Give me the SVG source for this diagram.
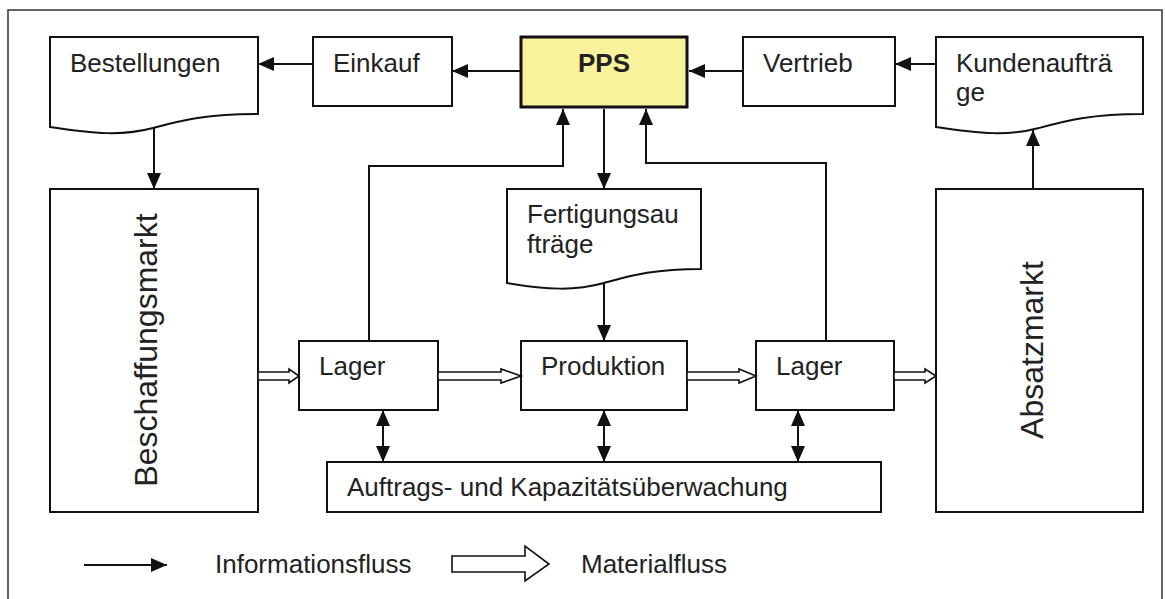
<svg xmlns="http://www.w3.org/2000/svg" width="1165" height="599" viewBox="0 0 1165 599">
<style>
.box{fill:#fff;stroke:#111;stroke-width:2}
.t{font-family:"Liberation Sans",Arial,sans-serif;font-size:26px;fill:#222}
.big{font-family:"Liberation Sans",Arial,sans-serif;font-size:32px;fill:#222}
.c{fill:none;stroke:#111;stroke-width:2}
.m{fill:#fff;stroke:#111;stroke-width:1.6;stroke-linejoin:miter}
</style>
<defs>
<marker id="ah" viewBox="0 0 16 14" markerWidth="16" markerHeight="14" refX="16" refY="7" markerUnits="userSpaceOnUse" orient="auto-start-reverse">
<path d="M0,0 L16,7 L0,14 Z" fill="#111"/>
</marker>
</defs>
<rect width="1165" height="599" fill="#fff"/>
<path d="M8,599 V10 H1162 V599" fill="none" stroke="#333" stroke-width="1.5"/>

<g id="bestellungen">
<path class="box" d="M50,37 H258 V114 C205,114 180,121 153,128 C123,136 95,134 50,127 Z"/>
<text class="t" x="70" y="72">Bestellungen</text>
</g>
<g id="einkauf">
<rect class="box" x="313" y="37" width="139" height="69"/>
<text class="t" x="333" y="72">Einkauf</text>
</g>
<g id="pps">
<rect x="521" y="37" width="166" height="70" fill="#f9f29d" stroke="#111" stroke-width="3"/>
<text class="t" x="604" y="72" text-anchor="middle" font-weight="bold">PPS</text>
</g>
<g id="vertrieb">
<rect class="box" x="743" y="37" width="152" height="69"/>
<text class="t" x="763" y="72">Vertrieb</text>
</g>
<g id="kundenauftraege">
<path class="box" d="M936,37 H1143 V114 C1090,114 1065,121 1039,128 C1009,136 981,134 936,127 Z"/>
<text class="t" x="956" y="72">Kundenaufträ</text>
<text class="t" x="956" y="101">ge</text>
</g>
<g id="beschaffungsmarkt">
<rect class="box" x="50" y="189" width="208" height="323"/>
<text class="big" transform="translate(157,350) rotate(-90)" text-anchor="middle">Beschaffungsmarkt</text>
</g>
<g id="absatzmarkt">
<rect class="box" x="936" y="189" width="207" height="323"/>
<text class="big" transform="translate(1043,350) rotate(-90)" text-anchor="middle">Absatzmarkt</text>
</g>
<g id="fertigungsauftraege">
<path class="box" d="M507,189 H701 V269 C652,269 630,276 604,283 C575,291 548,290 507,283 Z"/>
<text class="t" x="527" y="223">Fertigungsau</text>
<text class="t" x="527" y="253">fträge</text>
</g>
<g id="lager1">
<rect class="box" x="299" y="341" width="139" height="69"/>
<text class="t" x="319" y="375">Lager</text>
</g>
<g id="produktion">
<rect class="box" x="521" y="341" width="166" height="69"/>
<text class="t" x="541" y="375">Produktion</text>
</g>
<g id="lager2">
<rect class="box" x="756" y="341" width="138" height="69"/>
<text class="t" x="776" y="375">Lager</text>
</g>
<g id="ueberwachung">
<rect class="box" x="327" y="462" width="554" height="50"/>
<text class="t" x="347" y="496">Auftrags- und Kapazitätsüberwachung</text>
</g>

<g id="connectors">
<path class="c" d="M313,64 H258" marker-end="url(#ah)"/>
<path class="c" d="M521,71 H452" marker-end="url(#ah)"/>
<path class="c" d="M743,71 H689" marker-end="url(#ah)"/>
<path class="c" d="M936,64 H895" marker-end="url(#ah)"/>
<path class="c" d="M154,128 V189" marker-end="url(#ah)"/>
<path class="c" d="M1033,189 V130" marker-end="url(#ah)"/>
<path class="c" d="M369,341 V166 H563 V109" marker-end="url(#ah)"/>
<path class="c" d="M604,109 V189" marker-end="url(#ah)"/>
<path class="c" d="M826,341 V163 H646 V109" marker-end="url(#ah)"/>
<path class="c" d="M604,283 V341" marker-end="url(#ah)"/>
<path class="c" d="M383,410 V462" marker-start="url(#ah)" marker-end="url(#ah)"/>
<path class="c" d="M604,410 V462" marker-start="url(#ah)" marker-end="url(#ah)"/>
<path class="c" d="M798,410 V462" marker-start="url(#ah)" marker-end="url(#ah)"/>
<path class="m" d="M258,372 H289 V369 L299,376 L289,383 V380 H258 Z"/>
<path class="m" d="M438,372 H501 V369 L521,376 L501,383 V380 H438 Z"/>
<path class="m" d="M687,372 H739 V369 L756,376 L739,383 V380 H687 Z"/>
<path class="m" d="M894,372 H925 V369 L936,376 L925,383 V380 H894 Z"/>
</g>

<g id="legend">
<path class="c" d="M84,565 H167" marker-end="url(#ah)"/>
<text class="t" x="215" y="573">Informationsfluss</text>
<path class="m" d="M452,556 H525 V546 L549,564 L525,581 V572 H452 Z"/>
<text class="t" x="581" y="573">Materialfluss</text>
</g>
</svg>
